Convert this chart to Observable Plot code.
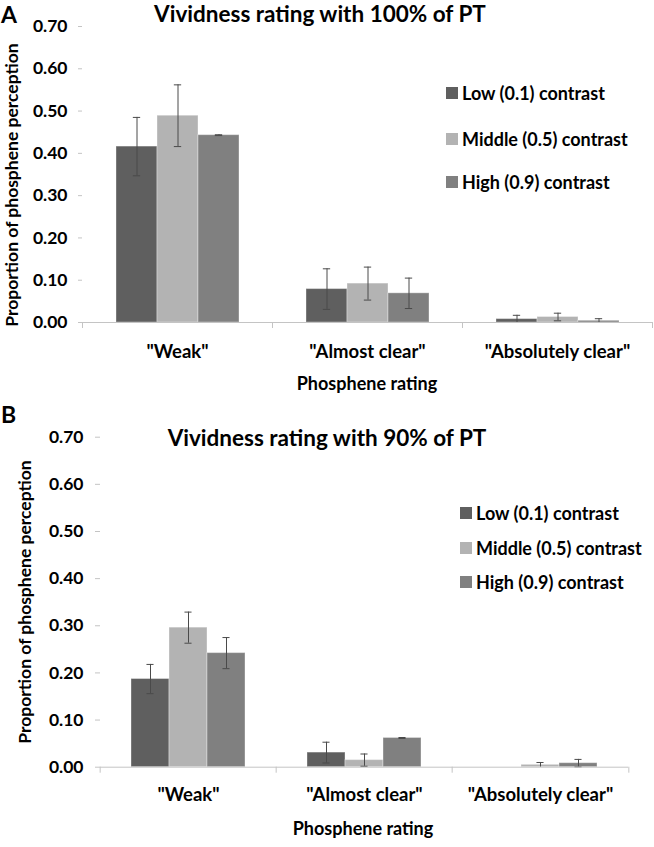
<!DOCTYPE html>
<html>
<head>
<meta charset="utf-8">
<script src="https://cdn.jsdelivr.net/npm/d3@7"></script>
<script src="https://cdn.jsdelivr.net/npm/@observablehq/plot@0.6"></script>
<style>
  html, body { margin: 0; padding: 0; background: #fff; }
  #wrap { position: relative; width: 654px; height: 847px; font-family: Lato, "Open Sans", sans-serif; font-weight: bold; color: #000; overflow: hidden; }
  #wrap svg { position: absolute; left: 0; }
  .t { position: absolute; white-space: nowrap; line-height: 1; }
  .c { transform: translate(-50%, -50%); }
  .l { transform: translate(0, -50%); }
  .rot { transform: translate(-50%, -50%) rotate(-90deg); }
  .leg { position: absolute; white-space: nowrap; line-height: 1; transform: translate(0, -50%); font-size: 18px; }
  .sw { position: absolute; width: 12px; height: 12px; transform: translate(0, -50%); }
</style>
</head>
<body>
<div id="wrap"></div>
<script>
// ---- data ----
const categories = ['"Weak"', '"Almost clear"', '"Absolutely clear"'];
const seriesNames = ["Low (0.1) contrast", "Middle (0.5) contrast", "High (0.9) contrast"];
const seriesColors = ["#5f5f5f", "#b3b3b3", "#808080"];
const yTickValues = [0, 0.1, 0.2, 0.3, 0.4, 0.5, 0.6, 0.7];
const yTickLabels = ["0.00", "0.10", "0.20", "0.30", "0.40", "0.50", "0.60", "0.70"];

// Panel A: 100% of PT
const A_low = [0.416, 0.079, 0.008];
const A_mid = [0.489, 0.092, 0.013];
const A_high = [0.443, 0.069, 0.004];
const A_lowErr = [0.069, 0.048, 0.009];
const A_midErr = [0.073, 0.039, 0.009];
const A_highErr = [0.001, 0.036, 0.005];

// Panel B: 90% of PT
const B_low = [0.187, 0.031, 0.000];
const B_mid = [0.296, 0.015, 0.005];
const B_high = [0.242, 0.062, 0.0085];
const B_lowErr = [0.031, 0.022, 0.000];
const B_midErr = [0.033, 0.013, 0.005];
const B_highErr = [0.033, 0.001, 0.008];

function table(vals, errs) {
  const rows = [];
  categories.forEach((cat, i) => {
    seriesNames.forEach((s, j) => {
      rows.push({cat, series: s, value: vals[j][i], err: errs[j][i]});
    });
  });
  return rows;
}
const dataA = table([A_low, A_mid, A_high], [A_lowErr, A_midErr, A_highErr]);
const dataB = table([B_low, B_mid, B_high], [B_lowErr, B_midErr, B_highErr]);

function panel(data, cfg) {
  const plotW = cfg.width - cfg.marginLeft - cfg.marginRight;
  const facetW = plotW / categories.length;
  const barW = facetW / (categories.length + 2 * cfg.outer);
  const capInset = (barW - 8) / 2;
  const withErr = data.filter(d => d.err > 0);
  return Plot.plot({
    width: cfg.width,
    height: cfg.height,
    marginTop: cfg.marginTop,
    marginBottom: cfg.marginBottom,
    marginLeft: cfg.marginLeft,
    marginRight: cfg.marginRight,
    style: {fontFamily: "Lato, 'Open Sans', sans-serif", fontWeight: "bold", fontSize: "17px", color: "#000", background: "transparent"},
    fx: {domain: categories, padding: 0, label: null, axis: null},
    x: {domain: seriesNames, paddingInner: 0, paddingOuter: cfg.outer, axis: null},
    y: {domain: [0, 0.7], label: null, axis: null},
    color: {domain: seriesNames, range: seriesColors},
    marks: [
      Plot.barY(data, {fx: "cat", x: "series", y: "value", fill: "series", stroke: "#ffffff", strokeOpacity: 0.35, strokeWidth: 1}),
      Plot.ruleX(withErr, {fx: "cat", x: "series", y1: d => Math.max(0, d.value - d.err), y2: d => d.value + d.err, stroke: "#4a4a4a", strokeWidth: 1}),
      Plot.tickY(withErr, {fx: "cat", x: "series", y: d => d.value + d.err, stroke: "#4a4a4a", insetLeft: capInset, insetRight: capInset}),
      Plot.tickY(withErr.filter(d => d.value - d.err > 0.0005), {fx: "cat", x: "series", y: d => d.value - d.err, stroke: "#4a4a4a", insetLeft: capInset, insetRight: capInset}),
      Plot.ruleY([0], {stroke: "#c4c4c4"}),
      Plot.axisY({ticks: yTickValues, tickFormat: d => yTickLabels[yTickValues.indexOf(d)], tickSize: cfg.tickSize, tickPadding: cfg.tickPadding, line: true, stroke: "#c4c4c4", fill: "#000", fontSize: 17.5, label: null}),
      Plot.axisFx({anchor: "bottom", ticks: categories, tickSize: 6, tickFormat: () => "", dx: -facetW / 2, stroke: "#c4c4c4", label: null}),
      Plot.axisFx({anchor: "bottom", ticks: categories.slice(-1), tickSize: 6, tickFormat: () => "", dx: facetW / 2, stroke: "#c4c4c4", label: null}),
      Plot.axisFx({anchor: "bottom", tickSize: 0, tickPadding: cfg.labelPad, fill: "#000", fontSize: 18.5, label: null})
    ]
  });
}

const wrap = document.getElementById("wrap");

const svgA = panel(dataA, {width: 654, height: 400, marginTop: 26, marginBottom: 78, marginLeft: 82, marginRight: 2, outer: 0.78, tickSize: 4, tickPadding: 11, labelPad: 22});
svgA.style.top = "0px";
wrap.appendChild(svgA);

const svgB = panel(dataB, {width: 654, height: 447, marginTop: 36.7, marginBottom: 80.3, marginLeft: 99, marginRight: 25, outer: 0.77, tickSize: 5, tickPadding: 12, labelPad: 21});
svgB.style.top = "400px";
wrap.appendChild(svgB);

function addText(txt, x, y, cls, size) {
  const d = document.createElement("div");
  d.className = "t " + cls;
  d.style.left = x + "px";
  d.style.top = y + "px";
  d.style.fontSize = size + "px";
  d.textContent = txt;
  wrap.appendChild(d);
}
function addLegend(x, ys) {
  seriesNames.forEach((s, i) => {
    const sw = document.createElement("div");
    sw.className = "sw";
    sw.style.left = x + "px";
    sw.style.top = ys[i] + "px";
    sw.style.background = seriesColors[i];
    wrap.appendChild(sw);
    const t = document.createElement("div");
    t.className = "leg";
    t.style.left = (x + 16) + "px";
    t.style.top = ys[i] + "px";
    t.textContent = s;
    wrap.appendChild(t);
  });
}

// Panel A annotations
addText("A", 1, 14, "l", 23);
addText("Vividness rating with 100% of PT", 320, 14, "c", 22.5);
addText("Proportion of phosphene perception", 12, 185, "rot", 17.5);
addText("Phosphene rating", 367, 383, "c", 18);
addLegend(446, [93, 139, 182]);

// Panel B annotations
addText("B", 1, 414, "l", 23);
addText("Vividness rating with 90% of PT", 327, 438, "c", 22.5);
addText("Proportion of phosphene perception", 25, 602, "rot", 17.5);
addText("Phosphene rating", 363, 828, "c", 18);
addLegend(460, [513, 548, 582]);
</script>
</body>
</html>
